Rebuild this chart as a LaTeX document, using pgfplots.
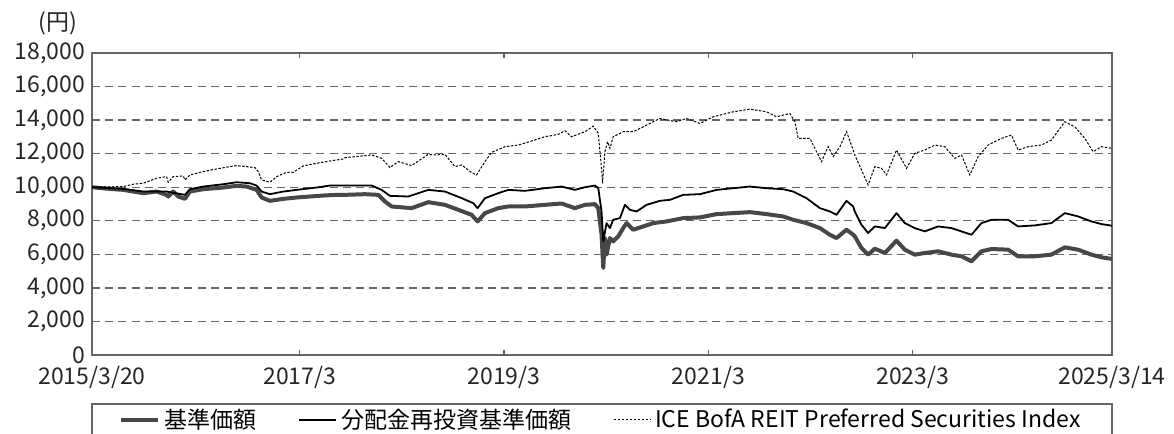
\documentclass[border=0pt]{standalone}
\usepackage{pgfplots}
\pgfplotsset{compat=1.18}
\usepackage{fontspec}
\setmainfont{Noto Sans CJK JP}
\newcommand{\fs}{\fontsize{11.5pt}{13pt}\selectfont}
\begin{document}
\begin{tikzpicture}
\begin{axis}[
  name=ax,
  scale only axis, width=510pt, height=151pt,
  xmin=2015.214, xmax=2025.197, ymin=0, ymax=18000,
  scaled x ticks=false, scaled y ticks=false,
  /pgf/number format/assume math mode=true,
  /pgf/number format/1000 sep={,},
  xtick={2015.214,2017.247,2019.247,2021.247,2023.247,2025.197},
  xticklabels={2015/3/20,2017/3,2019/3,2021/3,2023/3,2025/3/14},
  ytick={0,2000,...,18000},
  tick label style={font=\fs, text=black!85},
  xticklabel style={yshift=-2pt},
  major tick length=2.5pt, tick align=inside,
  ytick style={draw=none},
  xtick style={draw=black!60, line width=0.6pt},
  ymajorgrids,
  grid style={dash pattern=on 4pt off 2.6pt, black!60, line width=0.7pt},
  axis line style={black!60, line width=0.6pt},
  legend columns=3,
  legend style={at={(0.5,-0.215)}, anchor=center, draw=none, fill=none, font=\fs,
    /tikz/every even column/.append style={column sep=19pt}},
  legend cell align=left,
  legend image code/.code={\draw[#1] (0cm,0cm) -- (0.65cm,0cm);},
]
\addplot[black!72, line width=2pt, line join=round] coordinates {
(2015.214,10000) (2015.35,9920) (2015.520,9842) (2015.618,9743) (2015.716,9644) (2015.846,9743) (2015.944,9545) (2015.960,9446) (2016.009,9743) (2016.058,9446) (2016.124,9307) (2016.172,9743) (2016.303,9882) (2016.499,9981) (2016.629,10080) (2016.727,10040) (2016.825,9842) (2016.874,9387) (2016.955,9189) (2017.086,9307) (2017.216,9387) (2017.347,9446) (2017.477,9505) (2017.608,9545) (2017.690,9545) (2017.886,9585) (2018.016,9545) (2018.081,9149) (2018.147,8852) (2018.342,8753) (2018.505,9109) (2018.668,8951) (2018.799,8654) (2018.929,8357) (2018.988,7961) (2019.060,8456) (2019.190,8753) (2019.288,8852) (2019.451,8852) (2019.647,8951) (2019.810,9030) (2019.940,8753) (2020.038,8951) (2020.136,8991) (2020.169,8753) (2020.201,7169) (2020.218,5189) (2020.234,6971) (2020.250,5981) (2020.283,6971) (2020.315,6773) (2020.364,7070) (2020.413,7565) (2020.446,7862) (2020.511,7466) (2020.609,7664) (2020.707,7862) (2020.837,7961) (2021.000,8159) (2021.163,8199) (2021.327,8397) (2021.490,8456) (2021.653,8515) (2021.816,8397) (2021.979,8258) (2022.077,8060) (2022.207,7862) (2022.338,7565) (2022.435,7169) (2022.501,6971) (2022.598,7466) (2022.664,7169) (2022.680,7070) (2022.745,6377) (2022.810,5981) (2022.876,6337) (2022.974,6080) (2023.088,6813) (2023.169,6278) (2023.267,5981) (2023.365,6080) (2023.495,6179) (2023.626,5981) (2023.724,5882) (2023.822,5585) (2023.919,6179) (2024.017,6318) (2024.180,6278) (2024.278,5882) (2024.441,5882) (2024.604,5981) (2024.735,6417) (2024.865,6278) (2024.996,5981) (2025.094,5823) (2025.197,5724)
};
\addlegendentry{基準価額}
\addplot[black, line width=0.9pt, line join=round] coordinates {
(2015.214,10000) (2015.520,9901) (2015.716,9743) (2015.944,9743) (2016.124,9545) (2016.172,9882) (2016.303,10040) (2016.499,10179) (2016.629,10297) (2016.760,10238) (2016.825,10099) (2016.874,9743) (2016.955,9585) (2017.086,9743) (2017.216,9842) (2017.412,9981) (2017.542,10099) (2017.690,10099) (2017.951,10099) (2018.049,9842) (2018.130,9486) (2018.310,9446) (2018.505,9842) (2018.668,9743) (2018.832,9347) (2018.946,9050) (2018.988,8753) (2019.060,9347) (2019.190,9644) (2019.288,9842) (2019.451,9783) (2019.647,9941) (2019.810,10040) (2019.940,9842) (2020.038,10000) (2020.136,10099) (2020.169,9941) (2020.201,8555) (2020.218,6773) (2020.250,7862) (2020.283,7565) (2020.315,8060) (2020.381,8159) (2020.430,8951) (2020.478,8654) (2020.544,8555) (2020.642,8951) (2020.772,9189) (2020.870,9248) (2021.000,9545) (2021.163,9585) (2021.327,9842) (2021.490,9941) (2021.653,10040) (2021.816,9941) (2021.979,9882) (2022.077,9743) (2022.207,9347) (2022.338,8753) (2022.435,8555) (2022.501,8357) (2022.598,9189) (2022.664,8852) (2022.680,8555) (2022.745,7763) (2022.810,7268) (2022.876,7664) (2022.974,7565) (2023.088,8456) (2023.169,7862) (2023.267,7565) (2023.365,7367) (2023.495,7664) (2023.626,7565) (2023.724,7367) (2023.822,7169) (2023.919,7862) (2024.017,8060) (2024.180,8060) (2024.278,7664) (2024.441,7723) (2024.604,7862) (2024.735,8456) (2024.865,8258) (2024.996,7961) (2025.094,7803) (2025.197,7704)
};
\addlegendentry{分配金再投資基準価額}
\addplot[black, line width=0.5pt, dash pattern=on 1.2pt off 0.8pt] coordinates {
(2015.214,10000) (2015.520,10040) (2015.618,10179) (2015.716,10238) (2015.846,10535) (2015.944,10634) (2015.960,10297) (2016.009,10634) (2016.107,10674) (2016.124,10436) (2016.172,10733) (2016.303,10931) (2016.433,11089) (2016.564,11228) (2016.629,11287) (2016.727,11228) (2016.809,11169) (2016.841,10931) (2016.874,10436) (2016.955,10297) (2017.021,10634) (2017.118,10891) (2017.184,10891) (2017.281,11268) (2017.412,11426) (2017.542,11565) (2017.673,11683) (2017.690,11763) (2017.951,11921) (2018.049,11723) (2018.130,11169) (2018.212,11525) (2018.342,11287) (2018.505,11961) (2018.571,11921) (2018.668,11961) (2018.766,11228) (2018.832,11327) (2018.929,10872) (2018.978,10733) (2019.060,11525) (2019.125,12079) (2019.255,12416) (2019.386,12515) (2019.516,12753) (2019.647,13010) (2019.777,13149) (2019.843,13366) (2019.908,13010) (2020.038,13307) (2020.120,13644) (2020.169,13208) (2020.201,11129) (2020.211,10238) (2020.234,12119) (2020.260,12713) (2020.283,12317) (2020.315,13010) (2020.413,13307) (2020.511,13307) (2020.609,13604) (2020.772,14099) (2020.935,13901) (2021.033,14099) (2021.163,13802) (2021.294,14198) (2021.490,14495) (2021.653,14653) (2021.816,14495) (2021.914,14198) (2022.044,14396) (2022.093,13901) (2022.126,12911) (2022.240,12911) (2022.305,12119) (2022.354,11525) (2022.419,12416) (2022.468,11822) (2022.534,12416) (2022.599,13307) (2022.664,12218) (2022.680,11921) (2022.745,11030) (2022.810,10139) (2022.876,11228) (2022.941,11129) (2022.990,10733) (2023.088,12218) (2023.186,11129) (2023.267,12020) (2023.365,12218) (2023.463,12515) (2023.561,12416) (2023.658,11723) (2023.724,11921) (2023.805,10733) (2023.887,11822) (2023.985,12515) (2024.115,12911) (2024.213,13109) (2024.278,12218) (2024.376,12416) (2024.506,12515) (2024.604,12812) (2024.735,13901) (2024.833,13604) (2024.931,12911) (2025.012,12119) (2025.094,12416) (2025.197,12317)
};
\addlegendentry{ICE BofA REIT Preferred Securities Index}
\end{axis}
\node[anchor=east, font=\fs, text=black!85] at ([xshift=-4pt,yshift=14.75pt]ax.north west) {(円)};
\draw[black!60, line width=0.6pt] ([yshift=-24.5pt]ax.south west) rectangle ([yshift=-60pt]ax.south east);
\pgfresetboundingbox
\path[use as bounding box] ([xshift=-46pt,yshift=-39pt]ax.south west) rectangle ([xshift=31pt,yshift=26.5pt]ax.north east);
\end{tikzpicture}
\end{document}
